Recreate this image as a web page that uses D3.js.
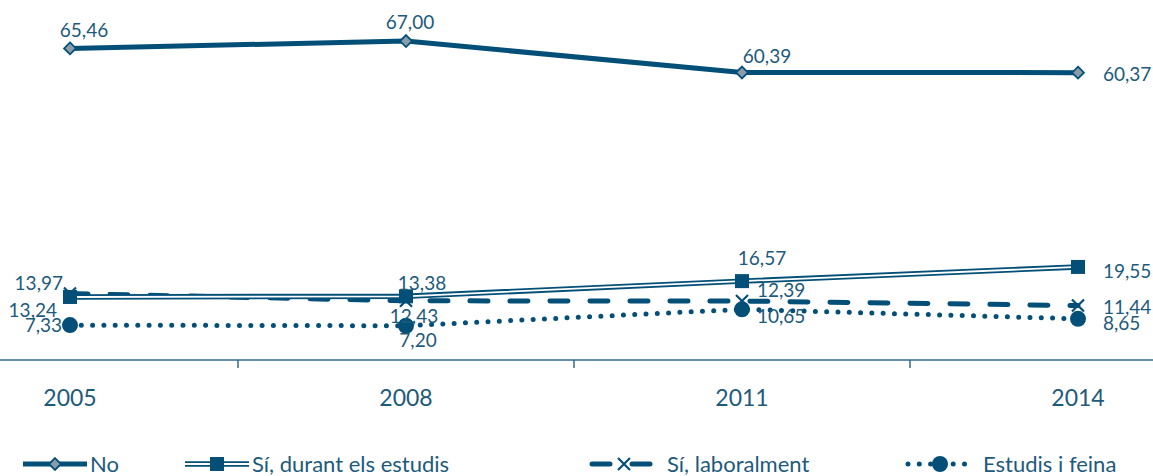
<!DOCTYPE html>
<html>
<head>
<meta charset="utf-8">
<script src="https://cdn.jsdelivr.net/npm/d3@7"></script>
<style>
  body { margin: 0; background: #fff; }
  svg text { font-family: Lato, "Open Sans", sans-serif; fill: #1d5a7c; }
</style>
</head>
<body>
<svg id="chart" width="1153" height="476"></svg>
<script>
/** Data **/
var years = ["2005", "2008", "2011", "2014"];
var seriesNames = ["No", "Sí, durant els estudis", "Sí, laboralment", "Estudis i feina"];
var valNo = [65.46, 67.00, 60.39, 60.37];
var valDurant = [13.24, 13.38, 16.57, 19.55];
var valLaboral = [13.97, 12.43, 12.39, 11.44];
var valFeina = [7.33, 7.20, 10.65, 8.65];

/** Where each value label sits relative to its point: [dx, dy, anchor] **/
var lblNo = [[14, -11, "middle"], [4, -12, "middle"], [25, -10, "middle"], [25, 8, "start"]];
var lblDurant = [[-13, 20, "end"], [16, -6, "middle"], [20, -16, "middle"], [25, 11, "start"]];
var lblLaboral = [[-7, -4, "end"], [8, 22, "middle"], [15, -4, "start"], [25, 8, "start"]];
var lblFeina = [[-8, 7, "end"], [12, 21, "middle"], [15, 14, "start"], [25, 11, "start"]];

var DARK = "#034f78";
var svg = d3.select("#chart");

/** Scales **/
var xBand = d3.scaleBand().domain(years).range([-98, 1246]).padding(0);
function xc(y) { return xBand(y) + xBand.bandwidth() / 2; }
var yScale = d3.scaleLinear().domain([0, 75]).range([360, 3]);

/** X axis **/
var axis = d3.axisBottom(xBand).tickSize(0).tickFormat("");
var gx = svg.append("g").attr("transform", "translate(0,360)").call(axis);
gx.select(".domain").remove();
gx.append("line").attr("x1", 0).attr("x2", 1153).attr("y1", 0).attr("y2", 0)
    .attr("stroke", "#2f6d90").attr("stroke-width", 1.5);
years.slice(1).forEach(function (y) {
    gx.append("line").attr("x1", xBand(y)).attr("x2", xBand(y))
        .attr("y1", 0).attr("y2", 8).attr("stroke", "#2f6d90").attr("stroke-width", 1.5);
});
years.forEach(function (y) {
    svg.append("text").text(y).attr("x", xc(y)).attr("y", 406)
        .attr("text-anchor", "middle").style("font-size", "23px");
});

/** Marker drawers **/
function drawMarker(g, kind, x, y) {
    if (kind === "diamond") {
        g.append("path").attr("d", d3.symbol().type(d3.symbolDiamond2).size(90)())
            .attr("transform", "translate(" + x + "," + y + ")")
            .attr("fill", "#8a9ca9").attr("stroke", DARK).attr("stroke-width", 1.8);
    } else if (kind === "square") {
        g.append("rect").attr("x", x - 7).attr("y", y - 7).attr("width", 14).attr("height", 14)
            .attr("fill", DARK);
    } else if (kind === "cross") {
        g.append("path").attr("d", "M" + (x - 6) + "," + (y - 6) + "L" + (x + 6) + "," + (y + 6) +
            "M" + (x + 6) + "," + (y - 6) + "L" + (x - 6) + "," + (y + 6))
            .attr("stroke", DARK).attr("stroke-width", 2.2).attr("fill", "none");
    } else if (kind === "circle") {
        g.append("circle").attr("cx", x).attr("cy", y).attr("r", 8).attr("fill", DARK);
    }
}

/** Line styles **/
function drawStroke(g, kind, d) {
    if (kind === "solid") {
        g.append("path").attr("d", d).attr("fill", "none").attr("stroke", DARK).attr("stroke-width", 5);
    } else if (kind === "double") {
        g.append("path").attr("d", d).attr("fill", "none").attr("stroke", DARK).attr("stroke-width", 5.5);
        g.append("path").attr("d", d).attr("fill", "none").attr("stroke", "#fff").attr("stroke-width", 1.8);
    } else if (kind === "dash") {
        g.append("path").attr("d", d).attr("fill", "none").attr("stroke", DARK).attr("stroke-width", 5)
            .attr("stroke-linecap", "round").attr("stroke-dasharray", "18 22");
    } else if (kind === "dot") {
        g.append("path").attr("d", d).attr("fill", "none").attr("stroke", DARK).attr("stroke-width", 5)
            .attr("stroke-linecap", "round").attr("stroke-dasharray", "0 11.3");
    }
}

var series = [
    {values: valNo, labels: lblNo, line: "solid", marker: "diamond"},
    {values: valDurant, labels: lblDurant, line: "double", marker: "square"},
    {values: valLaboral, labels: lblLaboral, line: "dash", marker: "cross"},
    {values: valFeina, labels: lblFeina, line: "dot", marker: "circle"}
];

var valueLine = d3.line()
    .x(function (d, i) { return xc(years[i]); })
    .y(function (d) { return yScale(d); });

var fmt = function (v) { return d3.format(".2f")(v).replace(".", ","); };

/** Draw series back to front **/
series.slice().reverse().forEach(function (s) {
    var g = svg.append("g");
    drawStroke(g, s.line, valueLine(s.values));
    s.values.forEach(function (v, i) { drawMarker(g, s.marker, xc(years[i]), yScale(v)); });
});
series.forEach(function (s) {
    s.values.forEach(function (v, i) {
        var p = s.labels[i];
        svg.append("text").text(fmt(v))
            .attr("x", xc(years[i]) + p[0]).attr("y", yScale(v) + p[1])
            .attr("text-anchor", p[2]).style("font-size", "19px");
    });
});

/** Legend **/
var legendX = [23, 185, 592, 908];
var legendY = 464;
series.forEach(function (s, i) {
    var g = svg.append("g");
    var x0 = legendX[i];
    drawStroke(g, s.line, "M" + x0 + "," + legendY + "L" + (x0 + 64) + "," + legendY);
    drawMarker(g, s.marker, x0 + 32, legendY);
    g.append("text").text(seriesNames[i]).attr("x", x0 + 67 + (i >= 2 ? 8 : 0)).attr("y", legendY + 8)
        .style("font-size", "22px");
});
</script>
</body>
</html>
